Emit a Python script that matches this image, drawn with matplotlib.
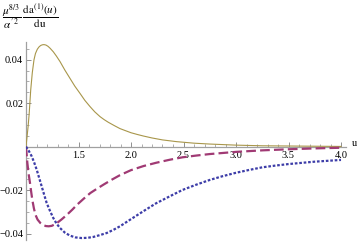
import matplotlib
matplotlib.use("Agg")
import matplotlib.pyplot as plt
from matplotlib.ticker import FixedLocator

plt.rcParams['font.family'] = ['Liberation Serif', 'DejaVu Serif']
plt.rcParams['mathtext.fontset'] = 'stix'
plt.rcParams['lines.scale_dashes'] = False

# --- data ---
u_solid = [1.0, 1.01, 1.02, 1.03, 1.045, 1.06, 1.076, 1.09, 1.108, 1.125, 1.14, 1.155, 1.171,
           1.19, 1.21, 1.23, 1.26, 1.29, 1.324, 1.37, 1.42, 1.465, 1.514, 1.56, 1.61, 1.655,
           1.705, 1.745, 1.784, 1.84, 1.895, 1.95, 2.0, 2.06, 2.117, 2.2, 2.3, 2.435, 2.6,
           2.75, 3.0, 3.25, 3.5, 3.75, 4.0]
y_solid = [0.0, 0.0046, 0.0092, 0.0150, 0.0261, 0.0340, 0.0399, 0.0428, 0.0448, 0.0459, 0.0465, 0.0468, 0.0469,
           0.0467, 0.0461, 0.0452, 0.0436, 0.0416, 0.0391, 0.0352, 0.0313, 0.0278, 0.0245, 0.0213, 0.0184, 0.0160,
           0.0138, 0.0124, 0.0112, 0.0097, 0.0083, 0.0073, 0.0064, 0.0056, 0.0049, 0.0040, 0.0031, 0.0023, 0.0016,
           0.0012, 0.0007, 0.0004, 0.0003, 0.0002, 0.0001]

u_dash = [1.0, 1.006, 1.013, 1.025, 1.038, 1.05, 1.06, 1.075, 1.09, 1.11, 1.137, 1.16, 1.19, 1.216,
          1.245, 1.27, 1.295, 1.34, 1.39, 1.44, 1.486, 1.55, 1.613, 1.68, 1.74, 1.82, 1.895, 2.0,
          2.12, 2.24, 2.37, 2.49, 2.62, 2.75, 3.0, 3.25, 3.5, 3.75, 4.0]
y_dash = [0.0, -0.0035, -0.0075, -0.0125, -0.0167, -0.0210, -0.0244, -0.0283, -0.0313, -0.0335, -0.0351, -0.0360, -0.0365, -0.0366,
          -0.0364, -0.0358, -0.0351, -0.0334, -0.0313, -0.0290, -0.0267, -0.0239, -0.0213, -0.0192, -0.0174, -0.0151, -0.0131, -0.0108,
          -0.0089, -0.0074, -0.0060, -0.0049, -0.0041, -0.0034, -0.0024, -0.0017, -0.0012, -0.0008, -0.0005]

u_dot = [1.0, 1.025, 1.054, 1.078, 1.102, 1.125, 1.149, 1.173, 1.197, 1.23, 1.26, 1.29, 1.324, 1.37,
         1.419, 1.47, 1.53, 1.585, 1.641, 1.70, 1.768, 1.83, 1.895, 2.0, 2.12, 2.24, 2.37, 2.49,
         2.62, 2.75, 2.87, 3.0, 3.125, 3.25, 3.375, 3.5, 3.75, 4.0]
y_dot = [0.0, -0.0018, -0.0044, -0.0073, -0.0106, -0.0143, -0.0182, -0.0221, -0.0259, -0.0297, -0.0328, -0.0353, -0.0374, -0.0395,
         -0.0409, -0.0417, -0.0420, -0.0419, -0.0415, -0.0407, -0.0397, -0.0383, -0.0366, -0.0333, -0.0296, -0.0260, -0.0228, -0.0199,
         -0.0175, -0.0153, -0.0136, -0.0120, -0.0107, -0.0095, -0.0087, -0.0080, -0.0069, -0.0061]

x_major = [1.5, 2.0, 2.5, 3.0, 3.5, 4.0]
x_labels = ['1.5', '2.0', '2.5', '3.0', '3.5', '4.0']
y_major = [-0.04, -0.02, 0.02, 0.04]
y_labels = ['\u22120.04', '\u22120.02', '0.02', '0.04']

W, H = 361, 243
fig = plt.figure(figsize=(W / 100, H / 100), dpi=100)
ax = fig.add_axes([26 / W, 1 - 240 / H, (346 - 26) / W, (240 - 42) / H])
ax.set_xlim(1.0, 1.0 + 320 / 105)
ax.set_ylim(-0.0429, 0.0481)

ax.plot(u_solid, y_solid, color='#a8964a', lw=0.8, zorder=3)
ax.plot(u_dash, y_dash, color='#a03a74', lw=1.6, dashes=(7, 3), zorder=3)
ax.plot(u_dot, y_dot, color='#3d3da8', lw=1.6, dashes=(1.9, 1.3), dash_capstyle='butt', zorder=3)

for s in ['top', 'right']:
    ax.spines[s].set_visible(False)
ax.spines['bottom'].set_position(('data', 0))
ax.spines['left'].set_position(('data', 1.0))
for s in ['bottom', 'left']:
    ax.spines[s].set_color('#a0a0a0')
    ax.spines[s].set_linewidth(0.9)

ax.xaxis.set_major_locator(FixedLocator(x_major))
ax.set_xticklabels(x_labels)
ax.xaxis.set_minor_locator(FixedLocator([1.0 + 0.1 * i for i in range(1, 31) if i % 5 != 0]))
ax.yaxis.set_major_locator(FixedLocator(y_major))
ax.set_yticklabels(y_labels)
ax.yaxis.set_minor_locator(FixedLocator([0.005 * i for i in range(-8, 10) if i % 4 != 0]))

ax.tick_params(axis='both', which='major', direction='in', length=3.5, width=0.7,
               color='#909090', labelsize=7.5, pad=2)
ax.tick_params(axis='both', which='minor', direction='in', length=2, width=0.6, color='#a0a0a0')
ax.tick_params(axis='x', which='major', pad=3)

fig.text(354 / W, 1 - 144 / H, 'u', fontsize=7.5, ha='center', va='center')
fig.text(2 / W, 1 - 2 / H,
         r'$\dfrac{\mu^{8/3}}{\alpha^{\prime\,2}}\;\dfrac{\mathrm{da}^{(1)}(u)}{\mathrm{du}}$',
         fontsize=8, ha='left', va='top')

fig.savefig('out.png', dpi=100)
